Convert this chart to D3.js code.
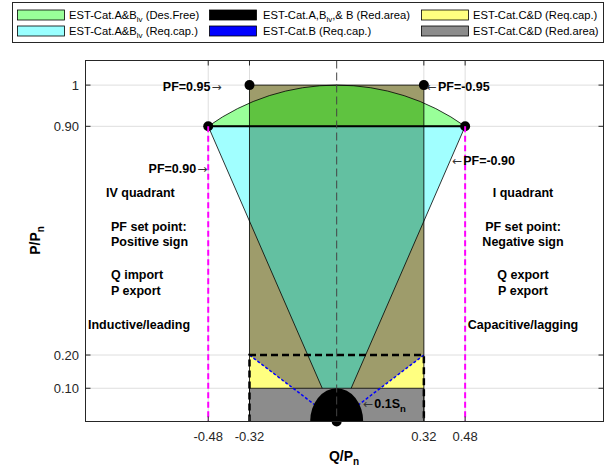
<!DOCTYPE html>
<html>
<head>
<meta charset="utf-8">
<script src="https://cdn.jsdelivr.net/npm/d3@7"></script>
<style>
  body { margin: 0; background: #fff; }
  text { font-family: "Liberation Sans", Arial, sans-serif; fill: #000; }
</style>
</head>
<body>
<script>
// axis limits and ticks (tick positions are the real values, labels are what the chart prints)
const qLimits = [-0.947, 1.006];
const pLimits = [0, 1.086];
const xTicks = [-0.4843, -0.3287, 0.3287, 0.4843];
const xTickLabels = ['-0.48', '-0.32', '0.32', '0.48'];
const yTicks = [0.1, 0.2, 0.888, 1.012];
const yTickLabels = ['0.10', '0.20', '0.90', '1'];

// PF set points (Q, P)
const pfQ = [-0.3287, -0.4843, 0.3287, 0.4843];
const pfP = [1.012, 0.888, 1.012, 0.888];
const pfLabels = ['PF=0.95', 'PF=0.90', 'PF=-0.95', 'PF=-0.90'];

// regions, as [Q, P] corners
const redArea = [[-0.3287, 0], [-0.3287, 1.012], [0.3287, 1.012], [0.3287, 0]];
const desFreeArc = [[-0.4843, 0.888], [0, 1.012], [0.4843, 0.888]];
const reqCapLv = [[-0.4843, 0.888], [0.4843, 0.888], [0, 0]];
const reqCapCDLeft = [[-0.3287, 0.2], [-0.3287, 0], [0, 0]];
const reqCapCDRight = [[0.3287, 0.2], [0.3287, 0], [0, 0]];
const redAreaCD = [[-0.3287, 0], [-0.3287, 0.1], [0.3287, 0.1], [0.3287, 0]];
const catBLeft = [[-0.3287, 0.2], [0, 0]];
const catBRight = [[0.3287, 0.2], [0, 0]];
const capBox = [[-0.3287, 0], [-0.3287, 0.2], [0.3287, 0.2], [0.3287, 0]];
const sMin = 0.1;

const legendLabels = [
  ['EST-Cat.A&B', 'lv', ' (Des.Free)'],
  ['EST-Cat.A&B', 'lv', ' (Req.cap.)'],
  ['EST-Cat.A,B', 'lv', ',& B (Red.area)'],
  ['EST-Cat.B (Req.cap.)', '', ''],
  ['EST-Cat.C&D (Req.cap.)', '', ''],
  ['EST-Cat.C&D (Red.area)', '', '']
];
const leftNotes = ['IV quadrant', 'PF set point:', 'Positive sign', 'Q import', 'P export', 'Inductive/leading'];
const rightNotes = ['I quadrant', 'PF set point:', 'Negative sign', 'Q export', 'P export', 'Capacitive/lagging'];

// styles
const legendFills = ['#99ff99', '#99ffff', '#000000', '#0000ff', '#ffff80', '#8c8c8c'];
const olive = '#9e9c6b';

let width = 609;
let height = 470;
let axL = 85.5, axR = 603.5, axT = 60.5, axB = 421.5;

let svg = d3.select('body')
  .append('svg')
  .attr('width', width)
  .attr('height', height);

let x = d3.scaleLinear().domain(qLimits).range([axL, axR]);
let y = d3.scaleLinear().domain(pLimits).range([axB, axT]);
let line = d3.line().x(d => x(d[0])).y(d => y(d[1]));

// grid
svg.selectAll('.gy').data(yTicks).enter().append('line')
  .attr('x1', axL).attr('x2', axR)
  .attr('y1', d => y(d)).attr('y2', d => y(d))
  .attr('stroke', '#dedede');
svg.selectAll('.gx').data(xTicks).enter().append('line')
  .attr('x1', d => x(d)).attr('x2', d => x(d))
  .attr('y1', axT).attr('y2', axB)
  .attr('stroke', '#dedede');

let plot = svg.append('g');

// reduced area rectangle (olive)
plot.append('path').attr('d', line(redArea) + 'Z').attr('fill', olive);

// arc through three points (circle in screen space)
const arcPts = desFreeArc.map(d => [x(d[0]), y(d[1])]);
const cx = arcPts[1][0], yTop = arcPts[1][1], y1 = arcPts[0][1];
const dx = arcPts[2][0] - cx;
const yc = (dx * dx + y1 * y1 - yTop * yTop) / (2 * (y1 - yTop));
const r = yc - yTop;
const arcD = `M${arcPts[0][0]},${y1} A${r},${r} 0 0 1 ${arcPts[2][0]},${y1}`;

plot.append('path').attr('d', arcD + 'Z')
  .attr('fill', 'rgb(0,255,0)').attr('fill-opacity', 0.4);
plot.append('path').attr('d', line(reqCapLv) + 'Z')
  .attr('fill', 'rgb(0,255,255)').attr('fill-opacity', 0.37)
  .attr('stroke', '#000').attr('stroke-width', 0.8);

[reqCapCDLeft, reqCapCDRight].forEach(t => {
  plot.append('path').attr('d', line(t) + 'Z').attr('fill', '#ffff80');
});
plot.append('path').attr('d', line(redAreaCD) + 'Z')
  .attr('fill', '#8c8c8c').attr('stroke', '#000').attr('stroke-width', 0.8);

// blue boundary of Cat.B
[catBLeft, catBRight].forEach(l => {
  plot.append('path').attr('d', line(l))
    .attr('fill', 'none').attr('stroke', '#0000ff')
    .attr('stroke-width', 1.5).attr('stroke-dasharray', '3,2');
});

// rectangle outline
plot.append('path').attr('d', line(redArea))
  .attr('fill', 'none').attr('stroke', '#000').attr('stroke-width', 0.8);

// dashed capability box
plot.append('path').attr('d', line(capBox))
  .attr('fill', 'none').attr('stroke', '#000')
  .attr('stroke-width', 2.5).attr('stroke-dasharray', '7,4');

// arc edge and PF=0.90 line
plot.append('path').attr('d', arcD)
  .attr('fill', 'none').attr('stroke', '#000').attr('stroke-width', 0.8);
plot.append('path').attr('d', line([desFreeArc[0], desFreeArc[2]]))
  .attr('stroke', '#000').attr('stroke-width', 2);

// minimum apparent power half disc
const rx = x(sMin) - x(0), ry = y(0) - y(sMin);
plot.append('path')
  .attr('d', `M${x(-sMin)},${y(0)} A${rx},${ry} 0 0 1 ${x(sMin)},${y(0)} Z`)
  .attr('fill', '#000');

// centre dashed line
plot.append('line')
  .attr('x1', x(0)).attr('x2', x(0)).attr('y1', axT).attr('y2', axB)
  .attr('stroke', '#444').attr('stroke-width', 1).attr('stroke-dasharray', '8,4');

// dots
plot.selectAll('.dot').data(pfQ.map((q, i) => [q, pfP[i]]).concat([[0, 0]]))
  .enter().append('circle')
  .attr('cx', d => x(d[0])).attr('cy', d => y(d[1]))
  .attr('r', 5).attr('fill', '#000');

// magenta PF=0.90 limits
[-0.4843, 0.4843].forEach(q => {
  plot.append('line')
    .attr('x1', x(q)).attr('x2', x(q)).attr('y1', y(0.888)).attr('y2', y(0))
    .attr('stroke', '#ff00ff').attr('stroke-width', 2).attr('stroke-dasharray', '6,3.5');
});

// axes box and ticks
svg.append('rect')
  .attr('x', axL).attr('y', axT).attr('width', axR - axL).attr('height', axB - axT)
  .attr('fill', 'none').attr('stroke', '#262626').attr('stroke-width', 1);
yTicks.forEach(v => {
  svg.append('line').attr('x1', axL).attr('x2', axL + 5).attr('y1', y(v)).attr('y2', y(v)).attr('stroke', '#262626');
  svg.append('line').attr('x1', axR).attr('x2', axR - 5).attr('y1', y(v)).attr('y2', y(v)).attr('stroke', '#262626');
});
xTicks.forEach(v => {
  svg.append('line').attr('x1', x(v)).attr('x2', x(v)).attr('y1', axB).attr('y2', axB - 5).attr('stroke', '#262626');
  svg.append('line').attr('x1', x(v)).attr('x2', x(v)).attr('y1', axT).attr('y2', axT + 5).attr('stroke', '#262626');
});

svg.selectAll('.ytl').data(yTicks).enter().append('text')
  .attr('x', 79).attr('y', d => y(d) + 4.5)
  .attr('text-anchor', 'end')
  .style('font-size', '13px').style('fill', '#262626')
  .text((d, i) => yTickLabels[i]);
svg.selectAll('.xtl').data(xTicks).enter().append('text')
  .attr('x', d => x(d)).attr('y', 441)
  .attr('text-anchor', 'middle')
  .style('font-size', '13px').style('fill', '#262626')
  .text((d, i) => xTickLabels[i]);

// axis labels
let xl = svg.append('text')
  .attr('x', 344).attr('y', 460.5)
  .attr('text-anchor', 'middle')
  .style('font-size', '14px').style('font-weight', 'bold');
xl.append('tspan').text('Q/P');
xl.append('tspan').attr('dy', 4).style('font-size', '10px').text('n');

let yl = svg.append('text')
  .attr('transform', 'translate(40,240.5) rotate(-90)')
  .attr('text-anchor', 'middle')
  .style('font-size', '14px').style('font-weight', 'bold');
yl.append('tspan').text('P/P');
yl.append('tspan').attr('dy', 4).style('font-size', '10px').text('n');

// PF annotations
function arrowText(xp, yp, label, arrow, anchor) {
  let t = svg.append('text').attr('x', xp).attr('y', yp).attr('text-anchor', anchor);
  if (arrow === 'right') {
    t.append('tspan').style('font-weight', 'bold').style('font-size', '12.5px').text(label);
    t.append('tspan').attr('dx', 1).style('font-family', 'DejaVu Sans').style('font-size', '12px').style('fill', '#333').text('\u2192');
  } else {
    t.append('tspan').style('font-family', 'DejaVu Sans').style('font-size', '12px').style('fill', '#333').text('\u2190');
    t.append('tspan').attr('dx', 1).style('font-weight', 'bold').style('font-size', '12.5px').text(label);
  }
  return t;
}
arrowText(x(pfQ[0]) - 28, 90.5, pfLabels[0], 'right', 'end');
arrowText(x(pfQ[1]) - 1, 173, pfLabels[1], 'right', 'end');
arrowText(x(pfQ[2]) + 3, 91, pfLabels[2], 'left', 'start');
arrowText(x(pfQ[3]) - 13, 164.5, pfLabels[3], 'left', 'start');

let sn = arrowText(x(sMin) + 0, 407.5, '0.1S', 'left', 'start');
sn.append('tspan').attr('dy', 4).style('font-weight', 'bold').style('font-size', '9.5px').text('n');

// quadrant notes
const noteY = [197, 230.5, 246, 279, 295, 328.5];
const leftX = [106, 111, 111, 111, 111, 88];
leftNotes.forEach((s, i) => {
  svg.append('text').attr('x', leftX[i]).attr('y', noteY[i])
    .style('font-weight', 'bold').style('font-size', '12.5px').text(s);
});
rightNotes.forEach((s, i) => {
  svg.append('text').attr('x', 523).attr('y', noteY[i]).attr('text-anchor', 'middle')
    .style('font-weight', 'bold').style('font-size', '12.5px').text(s);
});

// legend
svg.append('rect')
  .attr('x', 12.5).attr('y', 2.5).attr('width', 591).attr('height', 40)
  .attr('fill', '#fff').attr('stroke', '#262626');
const colSwatchX = [17.5, 209.5, 421.5];
const colTextX = [69, 263, 473];
const rowY = [15, 31];
legendLabels.forEach((parts, i) => {
  let col = Math.floor(i / 2), row = i % 2;
  svg.append('rect')
    .attr('x', colSwatchX[col]).attr('y', rowY[row] - 5)
    .attr('width', 47).attr('height', 10)
    .attr('fill', legendFills[i]).attr('stroke', '#000').attr('stroke-width', 0.8);
  let t = svg.append('text')
    .attr('x', colTextX[col]).attr('y', rowY[row] + 4)
    .style('font-size', '11.2px');
  t.append('tspan').text(parts[0]);
  if (parts[1]) {
    t.append('tspan').attr('dy', 3).style('font-size', '8px').text(parts[1]);
    t.append('tspan').attr('dy', -3).text(parts[2]);
  }
});
</script>
</body>
</html>
